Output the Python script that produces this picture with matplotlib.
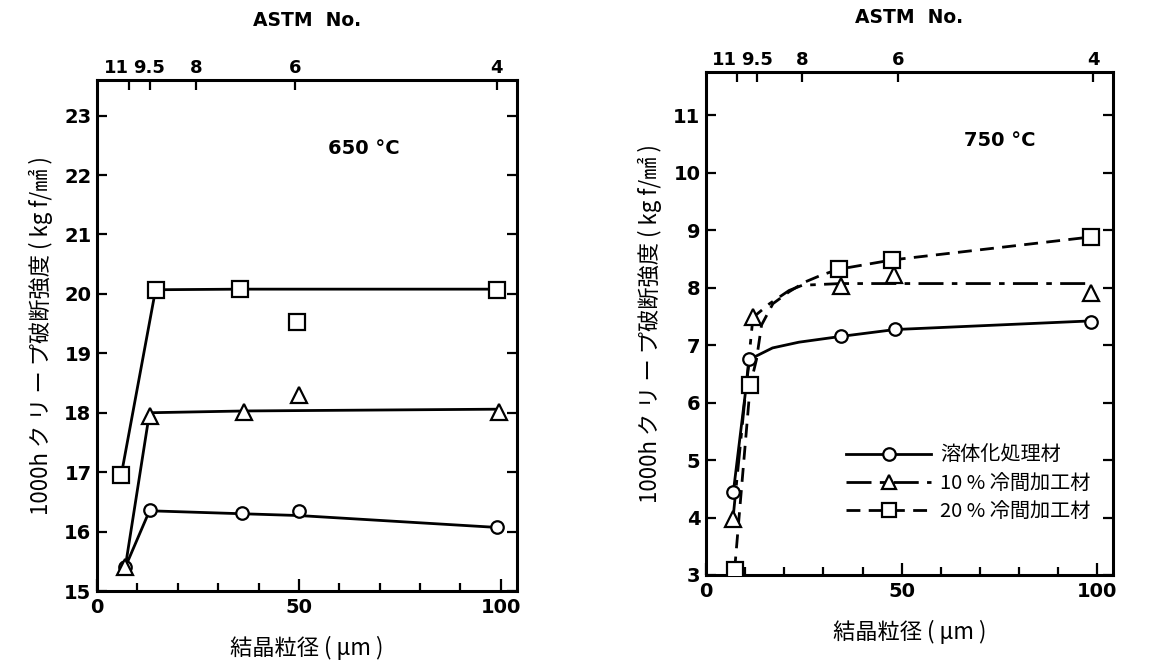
import matplotlib
matplotlib.use("Agg")
import matplotlib.pyplot as plt
from matplotlib.lines import Line2D

plt.rcParams['font.family'] = ['DejaVu Sans', 'Noto Sans CJK JP']

# ---------------- data ----------------
astm_labels = ['11', '9.5', '8', '6', '4']
astm_pos = [8, 13, 24.5, 49, 99]

# 650 C panel
l_circ_x = [7, 13, 36, 50, 99]
l_circ_y = [15.4, 16.37, 16.31, 16.34, 16.07]
l_tri_x = [7, 13, 36.5, 50, 99.5]
l_tri_y = [15.4, 17.95, 18.02, 18.3, 18.02]
l_sq_x = [6, 14.5, 35.5, 49.5, 99]
l_sq_y = [16.95, 20.07, 20.08, 19.53, 20.07]
# fitted lines
l_circ_fit_x = [7, 13, 36, 50, 99]
l_circ_fit_y = [15.4, 16.35, 16.3, 16.27, 16.07]
l_tri_fit_x = [7, 13, 36.5, 99.5]
l_tri_fit_y = [15.4, 18.0, 18.03, 18.06]
l_sq_fit_x = [6, 14.5, 35.5, 99]
l_sq_fit_y = [16.95, 20.07, 20.08, 20.08]

# 750 C panel
r_circ_x = [7, 11.1, 34.4, 48.3, 98.3]
r_circ_y = [4.45, 6.75, 7.15, 7.28, 7.4]
r_tri_x = [6.9, 12, 34.4, 48, 98.3]
r_tri_y = [3.98, 7.48, 8.02, 8.22, 7.9]
r_sq_x = [7.3, 11.3, 34, 47.5, 98.3]
r_sq_y = [3.08, 6.3, 8.32, 8.48, 8.88]
# fitted curves
r_circ_fit_x = [7, 11.1, 17, 23.75, 34.4, 48.3, 98.3]
r_circ_fit_y = [4.45, 6.75, 6.95, 7.05, 7.15, 7.27, 7.42]
r_tri_fit_x = [6.9, 12, 16.25, 21.25, 24.6, 34.4, 98.3]
r_tri_fit_y = [3.98, 7.48, 7.72, 7.95, 8.04, 8.07, 8.07]
r_sq_fit_x = [7.3, 11.3, 12.9, 14.2, 17.1, 21.3, 25.4, 29.6, 34, 47.5, 98.3]
r_sq_fit_y = [3.08, 6.3, 6.75, 7.35, 7.72, 7.93, 8.1, 8.22, 8.32, 8.48, 8.88]

legend_labels = ['溶体化処理材', '10 % 冷間加工材', '20 % 冷間加工材']

# ---------------- styles ----------------
W, H = 1149, 665
fig = plt.figure(figsize=(W / 100, H / 100), dpi=100)

jp = ['Noto Sans CJK JP', 'DejaVu Sans']
lw = 2.0
dashdot = (0, (9, 3, 2, 3))
dashed = (0, (5, 3))
mk = dict(markerfacecolor='white', markeredgecolor='black', markeredgewidth=1.6, color='black')


def setup(ax, ylim, yticks, top_pad):
    ax.set_xlim(0, 104)
    ax.set_ylim(*ylim)
    ax.set_xticks([0, 50, 100])
    ax.set_xticks(range(10, 100, 10), minor=True)
    ax.set_yticks(yticks)
    for s in ax.spines.values():
        s.set_linewidth(2.2)
    ax.tick_params(axis='both', which='both', direction='in', top=False, right=True,
                   width=1.6, labelsize=14)
    ax.tick_params(axis='x', which='major', length=9, pad=5)
    ax.tick_params(axis='x', which='minor', length=6)
    ax.tick_params(axis='y', which='major', length=7, pad=4)
    for lab in ax.get_xticklabels() + ax.get_yticklabels():
        lab.set_fontweight('bold')
    sec = ax.secondary_xaxis('top')
    sec.set_xticks(astm_pos)
    sec.set_xticklabels(astm_labels, fontweight='bold', fontsize=13)
    labs = sec.get_xticklabels()
    labs[0].set_ha('right')
    sec.tick_params(direction='in', length=7, width=1.6, pad=2)
    sec.set_xlabel('ASTM  No.', fontweight='bold', fontsize=13.5, labelpad=top_pad)
    ax.set_xlabel('結晶粒径 ( μm )', family=jp, fontsize=16, labelpad=14)
    ax.set_ylabel('1000h ク リ ー プ破断強度 ( kg f/㎟ )', family=jp, fontsize=16, labelpad=8)
    return sec


# left panel
axL = fig.add_axes([97 / W, 1 - 591 / H, (517 - 97) / W, (591 - 80) / H])
setup(axL, (15, 23.6), range(15, 24), 24)
axL.plot(l_circ_fit_x, l_circ_fit_y, '-', color='black', lw=lw, zorder=2)
axL.plot(l_tri_fit_x, l_tri_fit_y, '-', color='black', lw=lw, zorder=2)
axL.plot(l_sq_fit_x, l_sq_fit_y, '-', color='black', lw=lw, zorder=2)
axL.plot(l_circ_x, l_circ_y, 'o', ms=9, zorder=3, **mk)
axL.plot(l_sq_x, l_sq_y, 's', ms=11, zorder=3, **mk)
axL.plot(l_tri_x, l_tri_y, '^', ms=11, zorder=4, **mk)
axL.text(66, 22.45, '650 °C', fontsize=14, fontweight='bold', ha='center', va='center')

# right panel
axR = fig.add_axes([706 / W, 1 - 575 / H, (1113 - 706) / W, (575 - 72) / H])
setup(axR, (3, 11.75), range(3, 12), 20)
axR.plot(r_circ_fit_x, r_circ_fit_y, '-', color='black', lw=lw, zorder=2)
axR.plot(r_tri_fit_x, r_tri_fit_y, linestyle=dashdot, color='black', lw=lw, zorder=2)
axR.plot(r_sq_fit_x, r_sq_fit_y, linestyle=dashed, color='black', lw=lw, zorder=2)
axR.plot(r_circ_x, r_circ_y, 'o', ms=9, zorder=3, **mk)
axR.plot(r_tri_x, r_tri_y, '^', ms=11, zorder=3, **mk)
axR.plot(r_sq_x, r_sq_y, 's', ms=11, zorder=3, **mk)
axR.text(75, 10.56, '750 °C', fontsize=14, fontweight='bold', ha='center', va='center')

handles = [
    Line2D([], [], linestyle='-', marker='o', ms=9, lw=lw, **mk),
    Line2D([], [], linestyle=dashdot, marker='^', ms=10, lw=lw, **mk),
    Line2D([], [], linestyle=dashed, marker='s', ms=10, lw=lw, **mk),
]
leg = axR.legend(handles, legend_labels, loc='upper left', bbox_to_anchor=(0.30, 0.295),
                 frameon=False, handlelength=4.2, numpoints=1, labelspacing=0.35,
                 handletextpad=0.45, prop={'family': jp, 'size': 14.5})

fig.savefig('out.png', dpi=100)
